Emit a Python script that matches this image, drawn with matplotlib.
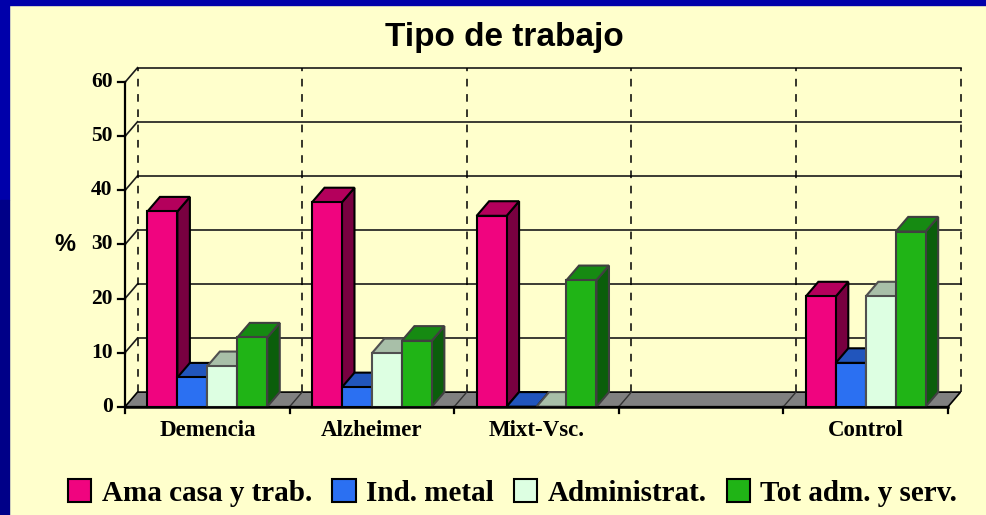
#!/usr/bin/env python3

import matplotlib
matplotlib.use("Agg")
import matplotlib.pyplot as plt
from matplotlib.patches import Polygon, Rectangle, Patch

categories = ["Demencia", "Alzheimer", "Mixt-Vsc.", "", "Control"]
series = ["Ama casa y trab.", "Ind. metal", "Administrat.", "Tot adm. y serv."]
# None = no data in that category (empty slot)
ama_casa = [36.1, 37.8, 35.3, None, 20.4]
ind_metal = [5.4, 3.6, 0, None, 8.1]
administrat = [7.5, 9.9, 0, None, 20.4]
tot_adm = [12.8, 12.2, 23.4, None, 32.4]
yticks = [0, 10, 20, 30, 40, 50, 60]

# front, top, side, edge
styles = [
    ("#F0047F", "#B4005C", "#780040", "black"),
    ("#2B70F2", "#2155BC", "#173C8A", "black"),
    ("#DDFFE2", "#A8BFA8", "#8FA58F", "#505050"),
    ("#20B416", "#168A12", "#0B5E0B", "#404040"),
]

BG = "#FFFFCC"
DX = 0.076   # depth offset in category units
DY = 2.7     # depth offset in value units
W = 0.182    # bar width
SERIF = "Liberation Serif"
SANS = "Liberation Sans"

fig = plt.figure(figsize=(9.86, 5.15), dpi=100, facecolor=BG)
# blue frame on top and left
fig.patches.append(Rectangle((0, 1 - 5 / 515), 1, 5 / 515, transform=fig.transFigure,
                             color="#0000AA", zorder=0))
fig.patches.append(Rectangle((0, 1 - 200 / 515), 9 / 986, 200 / 515, transform=fig.transFigure,
                             color="#0000AA", zorder=0))
fig.patches.append(Rectangle((0, 0), 9 / 986, 1 - 200 / 515, transform=fig.transFigure,
                             color="#000088", zorder=0))

ax = fig.add_axes([0.1268, 0.2103, 0.8474, 0.6583])
ax.set_xlim(0, len(categories) + DX)
ax.set_ylim(0, 60 + DY)
ax.axis("off")
ax.patch.set_alpha(0)

n = len(categories)
line_kw = dict(color="#1A1A1A", lw=1.2, clip_on=False)

# back wall and side wall grid
for v in yticks[1:]:
    ax.plot([DX, n + DX], [v + DY, v + DY], zorder=1, **line_kw)
    ax.plot([0, DX], [v, v + DY], zorder=1, **line_kw)
for k in range(n + 1):
    ax.plot([k + DX, k + DX], [DY, 60 + DY], color="black", lw=1.1,
            ls=(0, (5, 5)), zorder=1, clip_on=False)

# floor
floor = Polygon([(0, 0), (n, 0), (n + DX, DY), (DX, DY)], closed=True,
                facecolor="#808080", edgecolor="black", lw=1.2, zorder=2, clip_on=False)
ax.add_patch(floor)
for k in range(1, n):
    ax.plot([k, k + DX], [0, DY], color="#333333", lw=1.0, zorder=2, clip_on=False)

# y axis and ticks
ax.plot([0, 0], [-1.2, 60], color="black", lw=1.6, zorder=5, clip_on=False)
ax.plot([0, n], [0, 0], color="black", lw=1.8, zorder=5, clip_on=False)
for v in yticks:
    ax.plot([-0.042, 0], [v, v], color="black", lw=1.6, zorder=5, clip_on=False)
    ax.text(-0.075, v, str(v), ha="right", va="center", fontsize=15.5,
            fontweight="bold", family=SERIF, clip_on=False)
for k in range(1, n + 1):
    ax.plot([k, k], [0, -1.2], color="black", lw=1.6, zorder=5, clip_on=False)

ax.text(-0.365, 30, "%", ha="center", va="center", fontsize=17,
        fontweight="bold", family=SANS)


def bar3d(x0, h, front, top, side, edge):
    kw = dict(closed=True, edgecolor=edge, lw=1.5, zorder=3, clip_on=False, joinstyle="miter")
    ax.add_patch(Polygon([(x0 + W, 0), (x0 + W + DX, DY), (x0 + W + DX, h + DY), (x0 + W, h)],
                         facecolor=side, **kw))
    ax.add_patch(Polygon([(x0, h), (x0 + W, h), (x0 + W + DX, h + DY), (x0 + DX, h + DY)],
                         facecolor=top, **kw))
    ax.add_patch(Polygon([(x0, 0), (x0 + W, 0), (x0 + W, h), (x0, h)],
                         facecolor=front, **kw))


data = [ama_casa, ind_metal, administrat, tot_adm]
for k in range(n):
    start = k + 0.5 - 2 * W
    for j, vals in enumerate(data):
        if vals[k] is not None:
            bar3d(start + j * W, vals[k], *styles[j])
    ax.text(k + 0.5, -4.4, categories[k], ha="center", va="center", fontsize=16.5,
            fontweight="bold", family=SERIF, clip_on=False)

fig.text(0.512, 1 - 46 / 515, "Tipo de trabajo", ha="center", va="baseline",
         fontsize=24, fontweight="bold", family=SANS)

handles = [Patch(facecolor=s[0], edgecolor="black", lw=1.5) for s in styles]
fig.legend(handles, series, loc="center", bbox_to_anchor=(0.52, 1 - 493 / 515),
           ncol=4, frameon=False, handlelength=0.8, handleheight=0.8,
           handletextpad=0.35, columnspacing=0.7,
           prop=dict(family=SERIF, weight="bold", size=21))

fig.savefig("out.png", dpi=100, facecolor=BG)
